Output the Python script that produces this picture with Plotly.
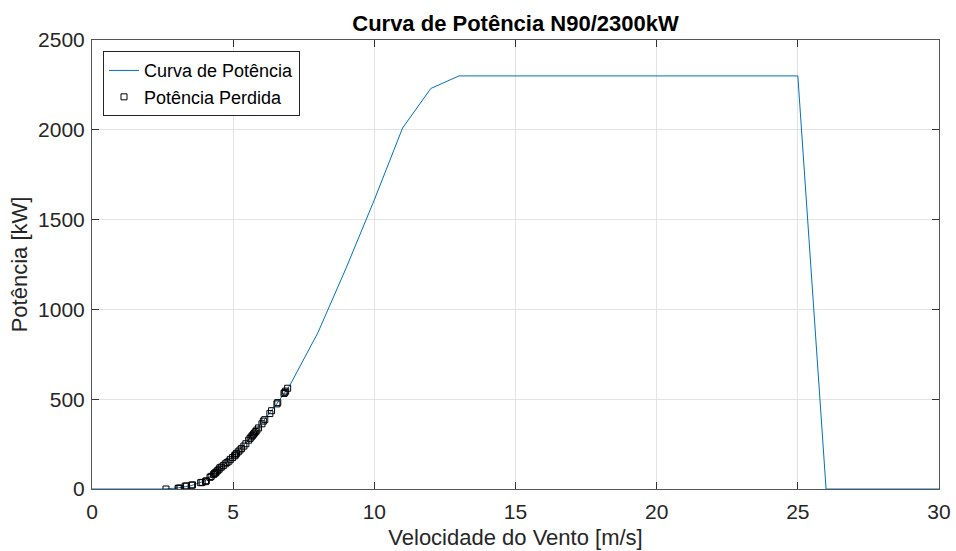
import plotly.graph_objects as go

# Power curve (wind speed m/s, power kW)
curve_speed = [0, 1, 2, 2.5, 3, 3.5, 4, 4.5, 5, 5.5, 6, 6.5, 7, 8, 9, 10, 11, 12, 13,
               14, 15, 16, 17, 18, 19, 20, 21, 22, 23, 24, 25, 26, 27, 28, 29, 30]
curve_power = [0, 0, 0, 0, 5, 18, 45, 110, 180, 265, 365, 465, 575, 870, 1230, 1610, 2010, 2230, 2300,
               2300, 2300, 2300, 2300, 2300, 2300, 2300, 2300, 2300, 2300, 2300, 2300, 0, 0, 0, 0, 0]

# Lost power samples
lost_speed = [2.62, 3.05, 3.08, 3.12, 3.3, 3.35, 3.53, 3.56, 3.85, 3.9, 4.02, 4.05, 4.18, 4.22,
              4.3, 4.34, 4.37, 4.4, 4.45, 4.5, 4.53, 4.58, 4.65, 4.72, 4.78, 4.85, 4.9, 4.98,
              5.05, 5.08, 5.12, 5.18, 5.24, 5.3, 5.38, 5.45, 5.55, 5.6, 5.64, 5.68, 5.72, 5.76,
              5.8, 5.84, 5.9, 6.02, 6.07, 6.12, 6.3, 6.36, 6.55, 6.58, 6.8, 6.83, 6.86, 6.93]
lost_power = [0, 4, 4, 5, 16, 17, 21, 23, 35, 37, 41, 46, 65, 70,
              80, 86, 90, 95, 102, 110, 118, 122, 130, 140, 147, 155, 165, 175,
              185, 190, 198, 207, 217, 226, 239, 252, 272, 282, 290, 297, 305, 312,
              320, 328, 340, 363, 378, 386, 420, 436, 474, 481, 532, 538, 545, 561]

font_main = "Liberation Sans, Arial, Helvetica, sans-serif"

fig = go.Figure()
fig.add_trace(go.Scatter(
    x=curve_speed, y=curve_power, mode="lines", name="Curva de Potência",
    line=dict(color="#0072BD", width=1),
))
fig.add_trace(go.Scatter(
    x=lost_speed, y=lost_power, mode="markers", name="Potência Perdida",
    marker=dict(symbol="square-open", size=6, color="#000000", line=dict(width=1)),
))

axis_common = dict(
    showgrid=True, gridcolor="#e3e3e3", gridwidth=1,
    showline=True, linecolor="#555555", linewidth=1, mirror="ticks",
    ticks="inside", ticklen=7, tickcolor="#333333", tickwidth=1,
    zeroline=False, automargin=False,
    tickfont=dict(family=font_main, size=21, color="#262626"),
)

fig.update_layout(
    width=956, height=551,
    margin=dict(l=92, r=17, t=40, b=62),
    paper_bgcolor="white", plot_bgcolor="white",
    title=dict(text="<b>Curva de Potência N90/2300kW</b>", x=0.5, xref="paper",
               y=(551 - 23) / 551, yref="container", yanchor="middle",
               font=dict(family=font_main, size=22, color="#000000")),
    xaxis=dict(range=[0, 30], tickvals=[0, 5, 10, 15, 20, 25, 30],
               title=dict(text="Velocidade do Vento [m/s]", standoff=7,
                          font=dict(family=font_main, size=22, color="#262626")),
               ticklabelstandoff=4, **axis_common),
    yaxis=dict(range=[0, 2500], tickvals=[0, 500, 1000, 1500, 2000, 2500],
               title=dict(text="Potência [kW]", standoff=4,
                          font=dict(family=font_main, size=22, color="#262626")),
               ticklabelstandoff=2, **axis_common),
    legend=dict(x=0.013, y=0.975, xanchor="left", yanchor="top",
                bordercolor="#262626", borderwidth=1, bgcolor="white",
                font=dict(family=font_main, size=18, color="#000000"),
                tracegroupgap=0, itemwidth=30),
    showlegend=True,
)

fig.write_html("out.html")
